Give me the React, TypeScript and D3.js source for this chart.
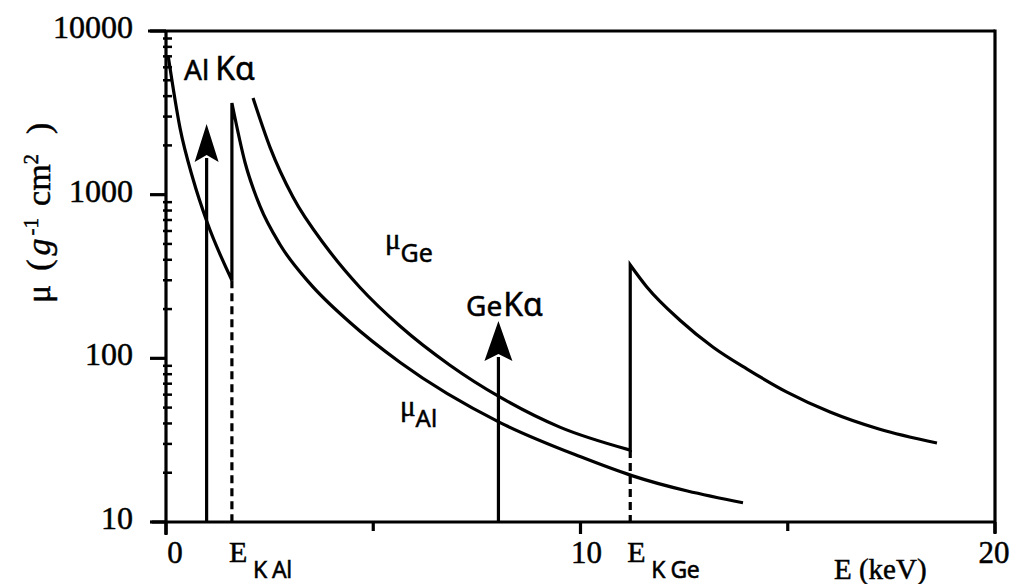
import React from "react";
import * as d3 from "d3";

// Absorption curves (E in keV, mu in g^-1 cm^2)
const alPreE = [0.05, 0.34, 0.65, 0.99, 1.59];
const alPreMu = [7100, 2540, 1250, 680, 300];
const alPostE = [1.59, 1.91, 2.27, 2.75, 3.47, 4.44, 5.65, 8.06, 9.99, 11.24, 13.92];
const alPostMu = [3630, 1561, 847, 496, 287, 165.5, 94.3, 40.5, 25.1, 19.2, 13.1];
const gePreE = [2.1, 2.51, 3.06, 3.88, 4.68, 5.65, 6.85, 8.06, 9.5, 11.2];
const gePreMu = [3896, 1947, 970, 474, 271, 157, 90.8, 57.9, 38, 27.5];
const gePostE = [11.2, 11.6, 12.4, 13.2, 14.02, 14.98, 16.02, 17.2, 18.6];
const gePostMu = [372, 273, 171, 117, 86, 62.2, 47, 37, 30.4];

// absorption edges: energy, lower mu of the dashed marker
const edgeE = [1.59, 11.2];
const edgeMu = [300, 27.5];
const edgeSub = ["K Al", "K Ge"];

// emission lines
const lineE = [0.98, 8.02];
const lineTipMu = [2700, 169];
const lineEl = ["Al", "Ge"];

const xMajor = [0, 10, 20];
const xMinor = [5, 15];
const xTickLabels = ["0", "10", "20"];
const yMajor = [10, 100, 1000, 10000];
const yTickLabels = ["10", "100", "1000", "10000"];

const W = 1021;
const H = 584;

export default function App() {
  const x = d3.scaleLinear().domain([0, 20]).range([166, 995]);
  const y = d3.scaleLog().domain([10, 10000]).range([522, 31]);

  const line = d3
    .line<[number, number]>()
    .x((d) => x(d[0]))
    .y((d) => y(d[1]))
    .curve(d3.curveMonotoneX);

  const zip = (a: number[], b: number[]) => a.map((v, i) => [v, b[i]] as [number, number]);
  const joined = (p1: string, p2: string) => p1 + p2.replace(/^M/, "L");

  const alPath = joined(line(zip(alPreE, alPreMu))!, line(zip(alPostE, alPostMu))!);
  const gePath = joined(line(zip(gePreE, gePreMu))!, line(zip(gePostE, gePostMu))!);

  const minor: number[] = [];
  for (let dec = 10; dec < 10000; dec *= 10) {
    for (let k = 2; k <= 9; k++) minor.push(dec * k);
  }

  const x0 = x(0);
  const yBase = y(10);
  const serif = "'Liberation Serif', 'Times New Roman', serif";
  const sans = "'Noto Sans', 'Open Sans', sans-serif";
  const sw = 3.2;
  const ts = { stroke: "#000", strokeWidth: 0.5 };

  const arrowSizes = [
    { half: 12, len: 38, notch: 7 },
    { half: 14, len: 40, notch: 7 },
  ];

  return (
    <svg
      width={W}
      height={H}
      viewBox={`0 0 ${W} ${H}`}
      style={{ position: "absolute", left: 0, top: 0, display: "block", background: "#fff" }}
    >
      <rect x={0} y={0} width={W} height={H} fill="#fff" />
      {/* frame */}
      <line x1={148} x2={x(20)} y1={y(10000)} y2={y(10000)} stroke="#000" strokeWidth={sw} />
      <line x1={x(20)} x2={x(20)} y1={y(10000) - 1.5} y2={yBase + 11} stroke="#000" strokeWidth={sw} />
      <line x1={x0} x2={x0} y1={y(10000)} y2={yBase + 13} stroke="#000" strokeWidth={sw} />
      <line x1={152} x2={x(20)} y1={yBase} y2={yBase} stroke="#000" strokeWidth={sw} />

      {/* y ticks */}
      {yMajor.map((v) => (
        <line key={"ym" + v} x1={150} x2={x0} y1={y(v)} y2={y(v)} stroke="#000" strokeWidth={sw} />
      ))}
      {minor.map((v) => (
        <line key={"yn" + v} x1={x0 - 3} x2={x0 + 6} y1={y(v)} y2={y(v)} stroke="#000" strokeWidth={2.5} />
      ))}
      {yMajor.map((v, i) => (
        <text
          key={"yl" + v}
          x={133}
          y={y(v) + 7}
          textAnchor="end"
          fontFamily={serif}
          fontSize={32}
          fill="#000"
          {...ts}
        >
          {yTickLabels[i]}
        </text>
      ))}

      {/* x ticks */}
      {xMajor.map((v) => (
        <line key={"xm" + v} x1={x(v)} x2={x(v)} y1={yBase} y2={yBase + 12} stroke="#000" strokeWidth={sw} />
      ))}
      {xMinor.map((v) => (
        <line key={"xn" + v} x1={x(v)} x2={x(v)} y1={yBase} y2={yBase + 9} stroke="#000" strokeWidth={sw} />
      ))}
      {xMajor.map((v, i) => (
        <text
          key={"xl" + v}
          x={x(v) + [9, 6, -1][i]}
          y={563}
          textAnchor="middle"
          fontFamily={serif}
          fontSize={31}
          fill="#000"
          {...ts}
        >
          {xTickLabels[i]}
        </text>
      ))}

      {/* axis titles */}
      <text x={834} y={579} fontFamily={serif} fontSize={29} fill="#000" {...ts}>
        E (keV)
      </text>
      <text transform="translate(50,303) rotate(-90)" fontFamily={serif} fontSize={34} fill="#000" {...ts}>
        <tspan>μ</tspan>
        <tspan dx={14}>(</tspan>
        <tspan dx={4} fontStyle="italic">g</tspan>
        <tspan dx={3} dy={-12} fontSize={21}>-1</tspan>
        <tspan dy={12} dx={12}>cm</tspan>
        <tspan dy={-12} fontSize={21}>2</tspan>
        <tspan dy={12} dx={20}>)</tspan>
      </text>

      {/* curves */}
      <path d={alPath} fill="none" stroke="#000" strokeWidth={sw} strokeLinejoin="miter" />
      <path d={gePath} fill="none" stroke="#000" strokeWidth={sw} strokeLinejoin="miter" />

      {/* edge markers */}
      {edgeE.map((e, i) => (
        <g key={"edge" + i}>
          <line
            x1={x(e)}
            x2={x(e)}
            y1={y(edgeMu[i])}
            y2={yBase}
            stroke="#000"
            strokeWidth={sw}
            strokeDasharray="8 5"
          />
          <text x={x(e) - 3} y={562} fontFamily={serif} fontSize={30} fill="#000" {...ts}>
            E
          </text>
          <text x={x(e) + 21} y={578} fontFamily={sans} fontSize={23} fill="#000" letterSpacing={-0.5} {...ts}>
            {edgeSub[i]}
          </text>
        </g>
      ))}

      {/* emission lines (arrows) */}
      {lineE.map((e, i) => {
        const xs = x(e);
        const yt = y(lineTipMu[i]);
        const a = arrowSizes[i];
        return (
          <g key={"arr" + i}>
            <line x1={xs} x2={xs} y1={yBase} y2={yt + a.len - 4} stroke="#000" strokeWidth={sw} />
            <path
              d={`M${xs},${yt} L${xs + a.half},${yt + a.len} L${xs},${yt + a.len - a.notch} L${xs - a.half},${yt + a.len} Z`}
              fill="#000"
            />
          </g>
        );
      })}

      {/* labels */}
      <text x={184} y={80} fontFamily={sans} fontSize={28} fill="#000" {...ts}>
        {lineEl[0]}
        <tspan dx={6} fontSize={32}>Kα</tspan>
      </text>
      <text x={466} y={316} fontFamily={sans} fontSize={28} fill="#000" {...ts}>
        {lineEl[1]}
        <tspan dx={1} fontSize={32}>Kα</tspan>
      </text>
      <text x={385} y={249} fontFamily={serif} fontSize={29} fill="#000" {...ts}>
        μ
        <tspan dy={13} fontFamily={sans} fontSize={25}>Ge</tspan>
      </text>
      <text x={400} y={416} fontFamily={serif} fontSize={29} fill="#000" {...ts}>
        μ
        <tspan dy={11} fontFamily={sans} fontSize={24}>Al</tspan>
      </text>
    </svg>
  );
}
